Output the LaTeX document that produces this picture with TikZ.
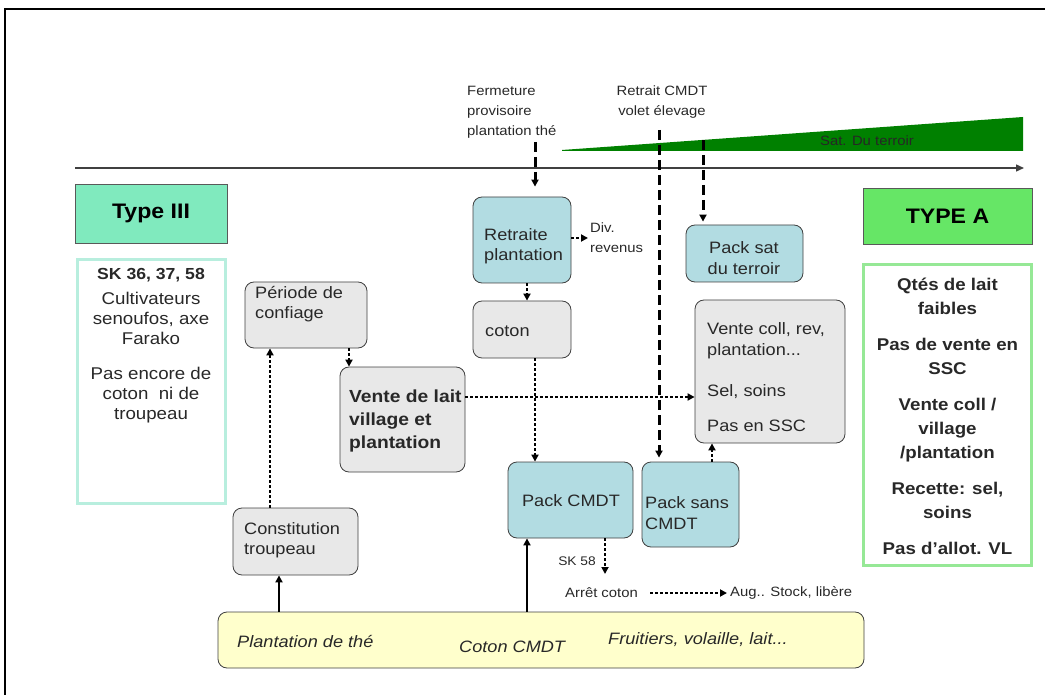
\documentclass[tikz,border=0pt]{standalone}
\usepackage{fontspec}
\setmainfont{Liberation Sans}[FakeStretch=1.1]
\usetikzlibrary{arrows.meta}
\definecolor{boxblue}{RGB}{178,220,226}
\definecolor{boxgray}{RGB}{232,232,232}
\definecolor{boxyellow}{RGB}{255,255,204}
\definecolor{mintfill}{RGB}{128,234,190}
\definecolor{mintline}{RGB}{184,238,222}
\definecolor{greenfill}{RGB}{102,230,102}
\definecolor{greenline}{RGB}{150,232,150}
\definecolor{wedgegreen}{RGB}{0,128,0}
\definecolor{txtcol}{RGB}{40,40,40}
\newcommand\ftxt{\fontsize{16.5}{20.5}\selectfont}
\newcommand\fsml{\fontsize{13.5}{20}\selectfont}
\begin{document}
\begin{tikzpicture}[x=1pt,y=-1pt,
  box/.style={rounded corners=9pt, draw=black!75, line width=0.8pt, inner sep=0pt},
  bluebox/.style={box, fill=boxblue},
  graybox/.style={box, fill=boxgray},
  hdr/.style={draw=black!65, line width=0.9pt, inner sep=0pt, text=black,
    font=\bfseries\fontsize{21}{24}\selectfont},
  tl/.style={inner sep=0pt, align=left, font=\ftxt, text=txtcol},
  sl/.style={inner sep=0pt, align=left, font=\fsml, text=txtcol},
  it/.style={inner sep=0pt, font=\itshape\fontsize{16.5}{20}\selectfont, text=txtcol},
  tip/.style={-{Triangle[length=7pt,width=7pt]}},
  dasharr/.style={tip, line width=3pt, dash pattern=on 10pt off 5pt},
  dotarr/.style={tip, line width=2.8pt, dash pattern=on 2.8pt off 2.2pt},
  solarr/.style={tip, line width=2.5pt}
]
\useasboundingbox (0,0) rectangle (1045,695);
% frame
\draw[line width=2.5pt] (5,695) -- (5,9) -- (1045,9);

% saturation wedge
\fill[wedgegreen] (562,150) -- (1023,117) -- (1023,151) -- (562,151) -- cycle;
\node[sl, text=black!85] (sat) at (867,141) {Sat. Du terroir};

% timeline
\coordinate (t0) at (75,168);
\coordinate (t1) at (1024,168);
\draw[line width=1.4pt, black!75, -{Triangle[length=8pt,width=7pt]}] (t0) -- (t1);

% type headers and bodies
\node[hdr, fill=mintfill, minimum width=152pt, minimum height=59pt] (h3) at (151,213.5) {Type III};
\node[hdr, fill=greenfill, minimum width=169pt, minimum height=56pt] (hA) at (947.5,216) {TYPE A};

\node[draw=mintline, line width=3pt, minimum width=148pt, minimum height=244pt] (b3) at (151.5,381.5) {};
\node[inner sep=0pt, align=center, font=\fontsize{17}{20}\selectfont, text=txtcol] (b3t) at (151,346)
  {{\bfseries\fontsize{16}{20}\selectfont SK 36, 37, 58}\\[5pt]Cultivateurs\\senoufos, axe\\Farako\\[15pt]Pas encore de\\coton\ \ ni de\\troupeau};

\node[draw=greenline, line width=3pt, minimum width=168pt, minimum height=301pt] (bA) at (947.5,415) {};
\node[inner sep=0pt, align=center, font=\bfseries\fontsize{17}{24}\selectfont, text=txtcol] (bAt) at (947.5,416)
  {Qtés de lait\\faibles\\[12pt]Pas de vente en\\SSC\\[12pt]Vente coll /\\village\\/plantation\\[12pt]Recette: sel,\\soins\\[12pt]Pas d'allot. VL};

% top labels
\node[sl, anchor=west] (ferm) at (467,112) {Fermeture\\provisoire\\plantation thé};
\node[sl, align=center] (retr) at (662,102) {Retrait CMDT\\volet élevage};

% boxes
\node[bluebox, minimum width=98pt, minimum height=86pt] (retraite) at (522,240) {};
\node[tl, anchor=west] (retraiteT) at (484,246) {Retraite\\plantation};
\node[sl, anchor=west] (div) at (590,238) {Div.\\revenus};

\node[graybox, minimum width=98pt, minimum height=57pt] (coton) at (522,329.5) {};
\node[tl, anchor=west] (cotonT) at (485,331) {coton};

\node[bluebox, minimum width=117pt, minimum height=57pt] (packsat) at (744.5,253.5) {};
\node[tl, align=center] (packsatT) at (744,258) {Pack sat\\du terroir};

\node[graybox, minimum width=150pt, minimum height=143pt] (vcoll) at (770,371.5) {};
\node[tl, anchor=west] (vcollT) at (707,377) {Vente coll, rev,\\plantation...\\[21pt]Sel, soins\\[14pt]Pas en SSC};

\node[graybox, minimum width=122pt, minimum height=66pt] (periode) at (306,315) {};
\node[tl, anchor=west] (periodeT) at (255,304) {Période de\\confiage};

\node[graybox, minimum width=125pt, minimum height=105pt] (vlait) at (402.5,419.5) {};
\node[tl, font=\bfseries\fontsize{17.5}{23}\selectfont, anchor=west] (vlaitT) at (349,421) {Vente de lait\\village et\\plantation};

\node[graybox, minimum width=125pt, minimum height=67pt] (constit) at (295.5,541.5) {};
\node[tl, anchor=west] (constitT) at (244,540) {Constitution\\troupeau};

\node[bluebox, minimum width=125pt, minimum height=76pt] (pcmdt) at (570.5,500) {};
\node[tl] (pcmdtT) at (571,501) {Pack CMDT};

\node[bluebox, minimum width=97pt, minimum height=85pt] (psans) at (690.5,504.5) {};
\node[tl, anchor=west] (psansT) at (645,513) {Pack sans\\CMDT};

\node[box, fill=boxyellow, minimum width=646pt, minimum height=56pt] (yel) at (541,640) {};
\node[it, anchor=west] (y1) at (237,642) {Plantation de thé};
\node[it, anchor=west] (y2) at (459,647) {Coton CMDT};
\node[it, anchor=west] (y3) at (608,640) {Fruitiers, volaille, lait...};

% small labels bottom
\node[sl, font=\fontsize{12.5}{15}\selectfont] (sk58) at (577,561) {SK 58};
\coordinate (sk58end) at (605,574);
\node[sl, anchor=west] (arret) at (565,593) {Arrêt coton};
\node[sl, anchor=west] (aug) at (730,593) {Aug.. Stock, libère};

% dashed connectors
\coordinate (xa) at (535,142);
\draw[dasharr, shorten >=10pt] (xa) -- (retraite.north -| xa);
\coordinate (xb) at (659,130);
\draw[dasharr, shorten >=4pt] (xb) -- (psans.north -| xb);
\coordinate (xc) at (703,140);
\draw[dasharr, shorten >=3pt] (xc) -- (packsat.north -| xc);

% dotted connectors
\draw[dotarr, shorten >=2pt] (retraite.east |- div.west) -- (div.west);
\coordinate (xd) at (527,0);
\draw[dotarr] (retraite.south -| xd) -- (coton.north -| xd);
\coordinate (xe) at (535,0);
\draw[dotarr] (coton.south -| xe) -- (pcmdt.north -| xe);
\coordinate (xf) at (349,0);
\draw[dotarr] (periode.south -| xf) -- (vlait.north -| xf);
\coordinate (xg) at (270,0);
\draw[dotarr] (constit.north -| xg) -- (periode.south -| xg);
\coordinate (yh) at (0,397);
\draw[dotarr] (vlait.east |- yh) -- (vcoll.west |- yh);
\coordinate (xi) at (712,0);
\draw[dotarr] (psans.north -| xi) -- (vcoll.south -| xi);
\draw[dotarr] (pcmdt.south -| sk58end) -- (sk58end);
\draw[dotarr, shorten <=12pt, shorten >=3pt] (arret.east) -- (aug.west);

% solid connectors
\coordinate (xj) at (279,0);
\draw[solarr] (yel.north -| xj) -- (constit.south -| xj);
\draw[solarr] (yel.north -| xd) -- (pcmdt.south -| xd);
\end{tikzpicture}
\end{document}
